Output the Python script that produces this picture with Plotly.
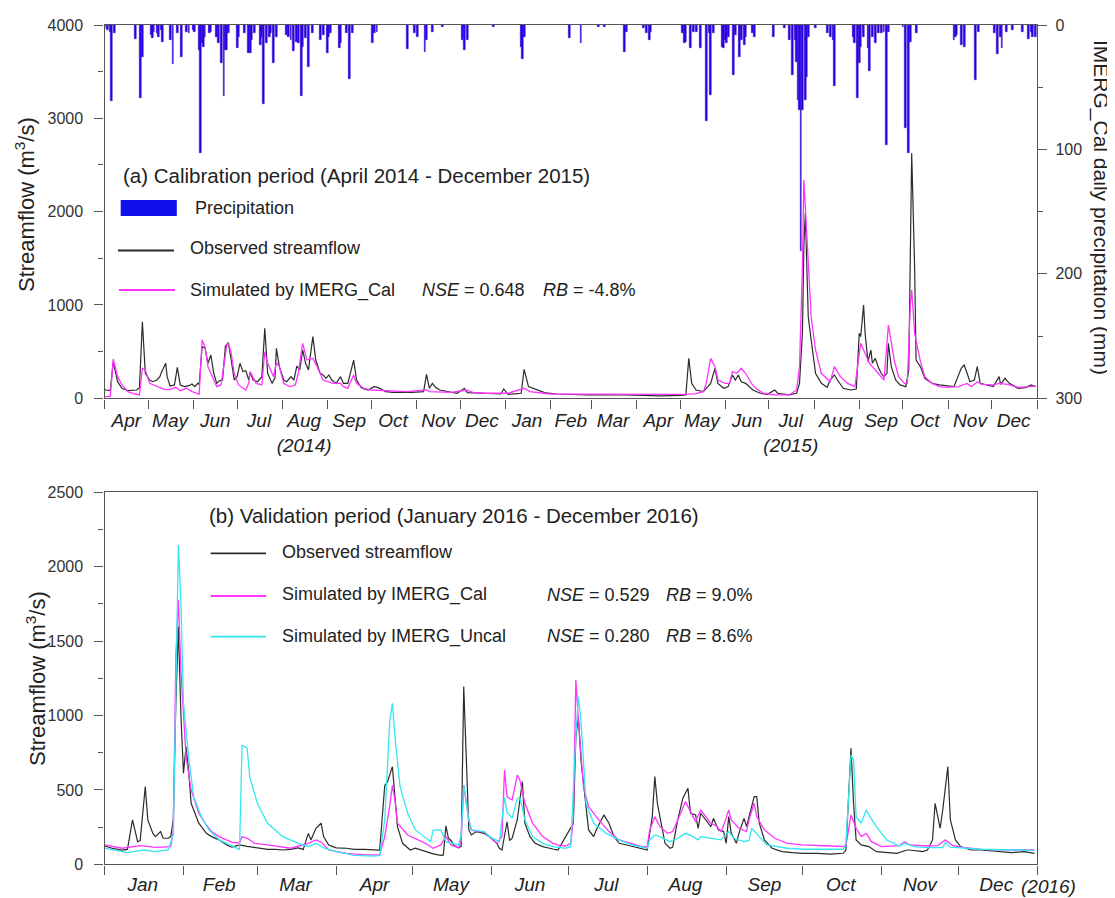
import plotly.graph_objects as go

W, H = 1115, 898          # size of the reference picture
OFF = 8                   # the page body adds an 8 px margin; the figure is shrunk to compensate
FONT = "Liberation Sans, Arial, sans-serif"

# ---------------- Panel (a) data: calibration period ----------------
precip_a_dates = [
    "2014-04-01", "2014-04-03", "2014-04-05", "2014-04-06", "2014-04-08", "2014-04-22", "2014-04-26", "2014-04-27",
    "2014-05-03", "2014-05-04", "2014-05-05", "2014-05-07", "2014-05-08", "2014-05-10", "2014-05-11", "2014-05-16",
    "2014-05-18", "2014-05-21", "2014-05-24", "2014-05-27", "2014-05-29", "2014-06-01", "2014-06-02", "2014-06-05",
    "2014-06-06", "2014-06-07", "2014-06-08", "2014-06-09", "2014-06-12", "2014-06-13", "2014-06-17", "2014-06-18",
    "2014-06-20", "2014-06-22", "2014-06-23", "2014-06-24", "2014-06-25", "2014-07-01", "2014-07-02", "2014-07-06",
    "2014-07-09", "2014-07-10", "2014-07-11", "2014-07-13", "2014-07-17", "2014-07-18", "2014-07-19", "2014-07-21",
    "2014-07-23", "2014-07-24", "2014-07-26", "2014-07-28", "2014-08-04", "2014-08-05", "2014-08-07", "2014-08-09",
    "2014-08-11", "2014-08-12", "2014-08-14", "2014-08-15", "2014-08-17", "2014-08-19", "2014-08-22", "2014-08-27",
    "2014-08-29", "2014-09-01", "2014-09-02", "2014-09-03", "2014-09-09", "2014-09-10", "2014-09-14", "2014-09-16",
    "2014-09-18", "2014-10-02", "2014-10-03", "2014-10-05", "2014-10-26", "2014-10-31", "2014-11-02", "2014-11-07",
    "2014-11-08", "2014-11-12", "2014-11-19", "2014-12-03", "2014-12-04", "2014-12-06", "2014-12-24", "2015-01-12",
    "2015-01-13", "2015-01-14", "2015-02-14", "2015-02-22", "2015-03-06", "2015-03-10", "2015-03-24", "2015-03-25",
    "2015-04-06", "2015-04-08", "2015-04-10", "2015-04-11", "2015-05-03", "2015-05-04", "2015-05-05", "2015-05-08",
    "2015-05-10", "2015-05-12", "2015-05-15", "2015-05-19", "2015-05-21", "2015-05-22", "2015-05-24", "2015-05-30",
    "2015-05-31", "2015-06-01", "2015-06-02", "2015-06-03", "2015-06-07", "2015-06-08", "2015-06-11", "2015-06-12",
    "2015-06-14", "2015-06-15", "2015-06-20", "2015-06-21", "2015-07-04", "2015-07-12", "2015-07-15", "2015-07-17",
    "2015-07-19", "2015-07-20", "2015-07-21", "2015-07-22", "2015-07-23", "2015-07-24", "2015-07-26", "2015-07-27",
    "2015-07-28", "2015-08-02", "2015-08-10", "2015-08-12", "2015-08-14", "2015-08-15", "2015-08-28", "2015-08-29",
    "2015-08-31", "2015-09-01", "2015-09-02", "2015-09-04", "2015-09-07", "2015-09-08", "2015-09-10", "2015-09-12",
    "2015-09-14", "2015-09-16", "2015-09-18", "2015-09-20", "2015-09-21", "2015-10-01", "2015-10-03", "2015-10-05",
    "2015-10-06", "2015-10-10", "2015-11-05", "2015-11-06", "2015-11-07", "2015-11-10", "2015-11-12", "2015-11-20",
    "2015-11-22", "2015-12-03", "2015-12-05", "2015-12-07", "2015-12-08", "2015-12-11", "2015-12-15", "2015-12-22",
    "2015-12-26", "2015-12-28", "2015-12-29", "2015-12-31",
]
precip_a_mm = [
    2.7, 4, 5.4, 60.8, 6.7, 11.5, 59, 25.5,
    8, 10.7, 5.4, 6.7, 9.4, 4, 14, 12,
    31.4, 6.7, 25.5, 5.4, 6.7, 4, 5.4, 20,
    103, 14.7, 17.4, 9.4, 6.7, 5.4, 9.4, 14.7,
    30.8, 56.8, 20, 20, 6.7, 18.8, 9.4, 6.7,
    22.8, 22.8, 12, 6.7, 16, 9.4, 63.5, 14.7,
    9.4, 6.7, 30.3, 9.4, 8, 9.4, 12, 20.6,
    13.4, 14.7, 56.8, 17.4, 10.7, 33.5, 6.7, 12,
    8, 22.2, 9.4, 6.7, 18.8, 14.7, 6.7, 43.4,
    6.7, 14.2, 6.7, 5.4, 19.6, 6.7, 9.4, 21.4,
    12, 5.4, 1.3, 12, 20, 12, 1.3, 17.4,
    27.6, 9.4, 10.7, 14.2, 1.9, 1.9, 21.4, 5.4,
    2.7, 6.7, 12, 5.4, 6.7, 14.7, 13.4, 18.8,
    5.4, 5.4, 18.8, 77, 6.7, 56.3, 6.7, 17.4,
    18.8, 12, 14.7, 9.4, 40.2, 8, 26, 12,
    16, 9.4, 6.7, 9.9, 9.9, 2.7, 12, 40.2,
    12, 29.5, 60.3, 68.3, 182, 68.3, 60.3, 41.5,
    9.4, 2.7, 6.7, 9.4, 12, 49, 9.4, 14.7,
    59, 30.8, 17.4, 9.4, 18.8, 36.7, 9.4, 14.7,
    6.7, 6.7, 5.4, 96.5, 5.4, 1.3, 83, 103,
    13.4, 6.7, 12, 9.4, 8, 16, 17.4, 44.2,
    5.4, 6.7, 23.6, 9.4, 18.8, 5.4, 4, 5.4,
    11.5, 5.4, 9.4, 9.4,
]

obs_a_dates = [
    "2014-04-01", "2014-04-02", "2014-04-05", "2014-04-07", "2014-04-10", "2014-04-13", "2014-04-17", "2014-04-23",
    "2014-04-25", "2014-04-27", "2014-04-29", "2014-05-02", "2014-05-04", "2014-05-07", "2014-05-09", "2014-05-10",
    "2014-05-13", "2014-05-14", "2014-05-16", "2014-05-19", "2014-05-21", "2014-05-23", "2014-05-26", "2014-05-29",
    "2014-05-31", "2014-06-02", "2014-06-04", "2014-06-05", "2014-06-07", "2014-06-09", "2014-06-11", "2014-06-13",
    "2014-06-15", "2014-06-17", "2014-06-19", "2014-06-21", "2014-06-23", "2014-06-25", "2014-06-27", "2014-06-29",
    "2014-07-01", "2014-07-03", "2014-07-05", "2014-07-07", "2014-07-09", "2014-07-10", "2014-07-12", "2014-07-15",
    "2014-07-18", "2014-07-20", "2014-07-22", "2014-07-25", "2014-07-27", "2014-07-28", "2014-07-30", "2014-08-02",
    "2014-08-04", "2014-08-07", "2014-08-09", "2014-08-11", "2014-08-13", "2014-08-15", "2014-08-17", "2014-08-19",
    "2014-08-22", "2014-08-24", "2014-08-27", "2014-08-29", "2014-08-31", "2014-09-02", "2014-09-04", "2014-09-07",
    "2014-09-10", "2014-09-12", "2014-09-15", "2014-09-19", "2014-09-21", "2014-09-24", "2014-09-26", "2014-09-29",
    "2014-10-03", "2014-10-06", "2014-10-11", "2014-10-16", "2014-10-29", "2014-11-06", "2014-11-08", "2014-11-10",
    "2014-11-12", "2014-11-14", "2014-11-17", "2014-11-22", "2014-11-29", "2014-12-04", "2014-12-06", "2014-12-16",
    "2014-12-29", "2014-12-31", "2015-01-03", "2015-01-12", "2015-01-14", "2015-01-17", "2015-01-20", "2015-01-28",
    "2015-02-05", "2015-02-27", "2015-03-24", "2015-04-17", "2015-05-01", "2015-05-05", "2015-05-07", "2015-05-09",
    "2015-05-12", "2015-05-17", "2015-05-22", "2015-05-25", "2015-05-27", "2015-05-31", "2015-06-03", "2015-06-06",
    "2015-06-08", "2015-06-10", "2015-06-12", "2015-06-15", "2015-06-20", "2015-06-25", "2015-06-30", "2015-07-05",
    "2015-07-07", "2015-07-15", "2015-07-20", "2015-07-22", "2015-07-24", "2015-07-25", "2015-07-26", "2015-07-28",
    "2015-07-29", "2015-07-31", "2015-08-02", "2015-08-06", "2015-08-10", "2015-08-12", "2015-08-15", "2015-08-17",
    "2015-08-21", "2015-08-26", "2015-08-30", "2015-09-01", "2015-09-02", "2015-09-04", "2015-09-05", "2015-09-07",
    "2015-09-09", "2015-09-10", "2015-09-12", "2015-09-14", "2015-09-16", "2015-09-18", "2015-09-20", "2015-09-21",
    "2015-09-23", "2015-09-26", "2015-09-29", "2015-10-03", "2015-10-05", "2015-10-07", "2015-10-09", "2015-10-10",
    "2015-10-13", "2015-10-16", "2015-10-21", "2015-10-26", "2015-10-31", "2015-11-05", "2015-11-10", "2015-11-12",
    "2015-11-14", "2015-11-16", "2015-11-19", "2015-11-21", "2015-11-23", "2015-11-27", "2015-12-02", "2015-12-06",
    "2015-12-07", "2015-12-10", "2015-12-13", "2015-12-17", "2015-12-19", "2015-12-24", "2015-12-28", "2015-12-31",
]
obs_a_flow = [
    96, 89, 82, 393, 178, 107, 82, 89,
    114, 821, 268, 196, 178, 196, 232, 275,
    375, 232, 132, 143, 332, 143, 125, 135,
    153, 125, 160, 150, 553, 540, 375, 464,
    268, 160, 189, 196, 560, 596, 410, 196,
    232, 375, 286, 296, 196, 275, 196, 178,
    232, 750, 268, 160, 220, 536, 339, 196,
    178, 232, 196, 346, 303, 518, 375, 304,
    661, 410, 268, 250, 214, 250, 196, 160,
    232, 160, 160, 410, 196, 118, 100, 89,
    125, 114, 71, 64, 64, 71, 257, 107,
    161, 120, 89, 71, 54, 107, 60, 54,
    46, 100, 43, 54, 311, 125, 107, 61,
    46, 36, 36, 25, 32, 36, 428, 160,
    89, 71, 160, 321, 160, 107, 125, 250,
    196, 250, 178, 160, 89, 54, 43, 89,
    54, 36, 54, 160, 696, 1643, 1982, 875,
    750, 482, 268, 160, 118, 196, 250, 196,
    107, 89, 100, 696, 661, 1000, 700, 393,
    518, 375, 428, 339, 268, 232, 268, 589,
    339, 196, 143, 125, 300, 2625, 1410, 410,
    339, 214, 160, 143, 136, 125, 321, 357,
    268, 178, 196, 339, 160, 143, 125, 232,
    150, 214, 160, 125, 107, 115, 143, 125,
]

sim_a_dates = [
    "2014-04-01", "2014-04-05", "2014-04-07", "2014-04-10", "2014-04-13", "2014-04-17", "2014-04-22", "2014-04-25",
    "2014-04-27", "2014-04-29", "2014-05-02", "2014-05-07", "2014-05-12", "2014-05-16", "2014-05-20", "2014-05-23",
    "2014-05-27", "2014-05-31", "2014-06-03", "2014-06-05", "2014-06-07", "2014-06-09", "2014-06-11", "2014-06-15",
    "2014-06-17", "2014-06-20", "2014-06-24", "2014-06-25", "2014-06-27", "2014-06-29", "2014-07-02", "2014-07-07",
    "2014-07-09", "2014-07-10", "2014-07-14", "2014-07-18", "2014-07-20", "2014-07-22", "2014-07-26", "2014-07-28",
    "2014-07-30", "2014-08-02", "2014-08-06", "2014-08-10", "2014-08-12", "2014-08-15", "2014-08-18", "2014-08-22",
    "2014-08-25", "2014-08-29", "2014-09-05", "2014-09-10", "2014-09-12", "2014-09-15", "2014-09-19", "2014-09-21",
    "2014-09-26", "2014-10-01", "2014-10-10", "2014-10-25", "2014-11-08", "2014-11-10", "2014-11-25", "2014-12-05",
    "2014-12-10", "2014-12-20", "2015-01-03", "2015-01-14", "2015-01-18", "2015-01-25", "2015-02-01", "2015-03-01",
    "2015-04-01", "2015-05-04", "2015-05-12", "2015-05-17", "2015-05-19", "2015-05-22", "2015-05-25", "2015-05-27",
    "2015-06-01", "2015-06-04", "2015-06-06", "2015-06-09", "2015-06-12", "2015-06-15", "2015-06-19", "2015-06-22",
    "2015-06-27", "2015-07-05", "2015-07-15", "2015-07-20", "2015-07-22", "2015-07-24", "2015-07-25", "2015-07-27",
    "2015-07-30", "2015-08-02", "2015-08-06", "2015-08-12", "2015-08-15", "2015-08-19", "2015-08-24", "2015-08-29",
    "2015-08-31", "2015-09-02", "2015-09-05", "2015-09-08", "2015-09-10", "2015-09-15", "2015-09-18", "2015-09-21",
    "2015-09-22", "2015-09-25", "2015-09-28", "2015-10-02", "2015-10-04", "2015-10-06", "2015-10-07", "2015-10-09",
    "2015-10-13", "2015-10-16", "2015-10-21", "2015-10-26", "2015-10-31", "2015-11-08", "2015-11-14", "2015-11-17",
    "2015-11-21", "2015-11-24", "2015-12-02", "2015-12-06", "2015-12-12", "2015-12-19", "2015-12-27", "2015-12-31",
]
sim_a_flow = [
    18, 20, 421, 232, 143, 71, 46, 36,
    321, 303, 160, 125, 96, 96, 118, 82,
    107, 71, 54, 46, 625, 553, 339, 196,
    125, 143, 571, 589, 482, 268, 143, 89,
    160, 286, 160, 143, 500, 375, 232, 382,
    339, 160, 125, 143, 268, 589, 410, 428,
    339, 196, 160, 160, 125, 107, 250, 160,
    107, 89, 82, 71, 89, 71, 64, 89,
    64, 54, 54, 107, 71, 61, 46, 44,
    40, 43, 50, 71, 160, 428, 339, 196,
    160, 160, 286, 268, 321, 268, 160, 107,
    54, 36, 36, 89, 339, 1410, 2339, 1768,
    875, 518, 268, 178, 339, 232, 160, 125,
    339, 589, 482, 375, 339, 250, 196, 786,
    696, 410, 232, 160, 160, 982, 1160, 696,
    393, 232, 160, 125, 118, 125, 160, 125,
    178, 150, 143, 160, 150, 118, 125, 132,
]

# ---------------- Panel (b) data: validation period ----------------
obs_b_dates = [
    "2016-01-01", "2016-01-04", "2016-01-08", "2016-01-10", "2016-01-12", "2016-01-14", "2016-01-15", "2016-01-17",
    "2016-01-18", "2016-01-20", "2016-01-21", "2016-01-23", "2016-01-24", "2016-01-26", "2016-01-27", "2016-01-28",
    "2016-01-29", "2016-01-30", "2016-01-31", "2016-02-01", "2016-02-02", "2016-02-03", "2016-02-04", "2016-02-07",
    "2016-02-10", "2016-02-12", "2016-02-15", "2016-02-18", "2016-02-20", "2016-02-23", "2016-02-26", "2016-03-01",
    "2016-03-05", "2016-03-08", "2016-03-11", "2016-03-14", "2016-03-17", "2016-03-19", "2016-03-21", "2016-03-22",
    "2016-03-24", "2016-03-26", "2016-03-27", "2016-03-29", "2016-04-01", "2016-04-05", "2016-04-08", "2016-04-12",
    "2016-04-18", "2016-04-20", "2016-04-21", "2016-04-23", "2016-04-24", "2016-04-25", "2016-04-27", "2016-04-30",
    "2016-05-02", "2016-05-06", "2016-05-09", "2016-05-12", "2016-05-13", "2016-05-14", "2016-05-15", "2016-05-16",
    "2016-05-17", "2016-05-19", "2016-05-20", "2016-05-21", "2016-05-22", "2016-05-23", "2016-05-24", "2016-05-26",
    "2016-05-29", "2016-05-31", "2016-06-03", "2016-06-04", "2016-06-05", "2016-06-07", "2016-06-08", "2016-06-09",
    "2016-06-11", "2016-06-13", "2016-06-14", "2016-06-16", "2016-06-18", "2016-06-21", "2016-06-25", "2016-06-27",
    "2016-06-30", "2016-07-02", "2016-07-03", "2016-07-04", "2016-07-05", "2016-07-06", "2016-07-08", "2016-07-09",
    "2016-07-11", "2016-07-12", "2016-07-15", "2016-07-17", "2016-07-19", "2016-07-21", "2016-07-24", "2016-07-27",
    "2016-07-30", "2016-08-01", "2016-08-03", "2016-08-04", "2016-08-05", "2016-08-07", "2016-08-08", "2016-08-10",
    "2016-08-11", "2016-08-13", "2016-08-15", "2016-08-17", "2016-08-18", "2016-08-20", "2016-08-21", "2016-08-22",
    "2016-08-24", "2016-08-26", "2016-08-27", "2016-08-29", "2016-08-31", "2016-09-01", "2016-09-02", "2016-09-03",
    "2016-09-05", "2016-09-06", "2016-09-08", "2016-09-09", "2016-09-12", "2016-09-13", "2016-09-14", "2016-09-16",
    "2016-09-19", "2016-09-23", "2016-09-27", "2016-10-01", "2016-10-07", "2016-10-12", "2016-10-17", "2016-10-18",
    "2016-10-20", "2016-10-21", "2016-10-22", "2016-10-24", "2016-10-27", "2016-10-30", "2016-11-07", "2016-11-11",
    "2016-11-12", "2016-11-17", "2016-11-19", "2016-11-21", "2016-11-22", "2016-11-24", "2016-11-25", "2016-11-27",
    "2016-11-28", "2016-11-30", "2016-12-02", "2016-12-06", "2016-12-10", "2016-12-16", "2016-12-22", "2016-12-27",
    "2016-12-31",
]
obs_b_flow = [
    123, 108, 96, 100, 298, 152, 160, 522,
    298, 208, 186, 220, 175, 175, 186, 298,
    1082, 1597, 1000, 612, 791, 634, 410, 276,
    208, 186, 164, 130, 115, 130, 120, 110,
    100, 100, 96, 100, 110, 100, 208, 164,
    242, 276, 186, 130, 110, 108, 100, 100,
    95, 530, 550, 656, 455, 253, 141, 96,
    108, 85, 70, 60, 63, 259, 175, 160,
    130, 110, 120, 1194, 746, 231, 197, 220,
    208, 186, 141, 108, 96, 286, 160, 175,
    298, 556, 276, 186, 141, 119, 103, 96,
    186, 253, 276, 858, 992, 701, 410, 231,
    186, 231, 332, 276, 186, 141, 130, 119,
    108, 96, 320, 589, 410, 231, 141, 108,
    115, 298, 444, 511, 343, 332, 242, 343,
    298, 253, 309, 231, 220, 141, 320, 208,
    141, 208, 309, 253, 455, 455, 276, 164,
    108, 85, 78, 74, 74, 69, 74, 96,
    780, 410, 164, 130, 119, 85, 74, 96,
    96, 85, 96, 164, 410, 242, 365, 656,
    298, 164, 119, 96, 96, 85, 78, 85,
    74,
]

cal_b_dates = [
    "2016-01-01", "2016-01-08", "2016-01-15", "2016-01-21", "2016-01-27", "2016-01-28", "2016-01-29", "2016-01-30",
    "2016-01-31", "2016-02-01", "2016-02-02", "2016-02-04", "2016-02-07", "2016-02-10", "2016-02-12", "2016-02-15",
    "2016-02-18", "2016-02-20", "2016-02-23", "2016-02-24", "2016-02-26", "2016-02-27", "2016-02-29", "2016-03-05",
    "2016-03-14", "2016-03-21", "2016-03-24", "2016-03-26", "2016-03-29", "2016-04-05", "2016-04-12", "2016-04-18",
    "2016-04-20", "2016-04-22", "2016-04-23", "2016-04-24", "2016-04-25", "2016-04-29", "2016-05-06", "2016-05-09",
    "2016-05-12", "2016-05-14", "2016-05-16", "2016-05-19", "2016-05-20", "2016-05-21", "2016-05-23", "2016-05-24",
    "2016-05-26", "2016-05-29", "2016-05-31", "2016-06-03", "2016-06-05", "2016-06-06", "2016-06-07", "2016-06-09",
    "2016-06-11", "2016-06-12", "2016-06-14", "2016-06-17", "2016-06-21", "2016-06-25", "2016-06-27", "2016-06-30",
    "2016-07-02", "2016-07-03", "2016-07-04", "2016-07-05", "2016-07-07", "2016-07-09", "2016-07-13", "2016-07-17",
    "2016-07-21", "2016-07-26", "2016-07-30", "2016-08-01", "2016-08-02", "2016-08-04", "2016-08-06", "2016-08-09",
    "2016-08-11", "2016-08-13", "2016-08-16", "2016-08-18", "2016-08-20", "2016-08-22", "2016-08-24", "2016-08-26",
    "2016-08-28", "2016-08-30", "2016-08-31", "2016-09-02", "2016-09-03", "2016-09-06", "2016-09-09", "2016-09-10",
    "2016-09-12", "2016-09-13", "2016-09-16", "2016-09-20", "2016-09-25", "2016-10-01", "2016-10-12", "2016-10-17",
    "2016-10-18", "2016-10-20", "2016-10-22", "2016-10-24", "2016-10-26", "2016-10-28", "2016-11-01", "2016-11-08",
    "2016-11-10", "2016-11-12", "2016-11-19", "2016-11-23", "2016-11-26", "2016-11-29", "2016-12-03", "2016-12-10",
    "2016-12-24", "2016-12-31",
]
cal_b_flow = [
    130, 108, 125, 114, 119, 231, 1395, 1776,
    1300, 970, 724, 500, 343, 264, 220, 186,
    164, 148, 145, 186, 175, 164, 141, 130,
    108, 141, 164, 150, 96, 74, 63, 63,
    186, 399, 530, 432, 276, 197, 141, 108,
    130, 186, 130, 110, 160, 530, 298, 231,
    220, 220, 186, 141, 186, 634, 455, 432,
    600, 567, 410, 276, 186, 141, 130, 123,
    141, 300, 1239, 970, 522, 388, 298, 220,
    164, 141, 119, 119, 231, 320, 253, 208,
    220, 298, 421, 354, 287, 365, 320, 276,
    260, 220, 260, 365, 298, 242, 220, 300,
    410, 320, 231, 175, 141, 130, 123, 119,
    125, 332, 242, 186, 208, 152, 119, 125,
    152, 130, 123, 125, 164, 125, 114, 100,
    96, 96,
]

uncal_b_dates = [
    "2016-01-01", "2016-01-08", "2016-01-10", "2016-01-14", "2016-01-17", "2016-01-20", "2016-01-23", "2016-01-26",
    "2016-01-28", "2016-01-29", "2016-01-30", "2016-01-31", "2016-02-01", "2016-02-03", "2016-02-05", "2016-02-08",
    "2016-02-11", "2016-02-15", "2016-02-19", "2016-02-22", "2016-02-23", "2016-02-24", "2016-02-26", "2016-02-27",
    "2016-03-01", "2016-03-05", "2016-03-11", "2016-03-17", "2016-03-21", "2016-03-24", "2016-03-27", "2016-04-01",
    "2016-04-08", "2016-04-16", "2016-04-18", "2016-04-20", "2016-04-22", "2016-04-23", "2016-04-24", "2016-04-26",
    "2016-04-29", "2016-05-02", "2016-05-06", "2016-05-08", "2016-05-09", "2016-05-12", "2016-05-14", "2016-05-17",
    "2016-05-19", "2016-05-20", "2016-05-21", "2016-05-23", "2016-05-24", "2016-05-29", "2016-05-31", "2016-06-04",
    "2016-06-05", "2016-06-06", "2016-06-07", "2016-06-09", "2016-06-11", "2016-06-12", "2016-06-14", "2016-06-17",
    "2016-06-21", "2016-06-25", "2016-06-30", "2016-07-02", "2016-07-04", "2016-07-05", "2016-07-06", "2016-07-08",
    "2016-07-11", "2016-07-16", "2016-07-21", "2016-07-26", "2016-08-01", "2016-08-02", "2016-08-04", "2016-08-06",
    "2016-08-10", "2016-08-13", "2016-08-16", "2016-08-19", "2016-08-21", "2016-08-22", "2016-08-26", "2016-08-30",
    "2016-09-02", "2016-09-04", "2016-09-08", "2016-09-10", "2016-09-11", "2016-09-14", "2016-09-17", "2016-09-25",
    "2016-10-01", "2016-10-17", "2016-10-18", "2016-10-20", "2016-10-21", "2016-10-22", "2016-10-24", "2016-10-26",
    "2016-10-27", "2016-10-30", "2016-11-03", "2016-11-08", "2016-11-10", "2016-11-14", "2016-11-19", "2016-11-25",
    "2016-11-26", "2016-11-28", "2016-12-03", "2016-12-10", "2016-12-24", "2016-12-31",
]
uncal_b_flow = [
    108, 85, 78, 90, 96, 85, 90, 96,
    200, 1082, 2146, 1754, 1082, 724, 455, 320,
    231, 164, 130, 108, 100, 800, 780, 589,
    410, 276, 186, 141, 120, 140, 110, 85,
    60, 55, 60, 298, 970, 1082, 858, 522,
    343, 231, 175, 152, 230, 231, 150, 141,
    130, 200, 533, 298, 231, 220, 186, 152,
    300, 450, 350, 310, 440, 450, 300, 186,
    141, 119, 108, 120, 858, 1127, 970, 410,
    276, 208, 164, 130, 108, 164, 197, 186,
    152, 175, 208, 186, 164, 186, 175, 164,
    220, 175, 152, 160, 242, 186, 130, 108,
    101, 101, 140, 735, 701, 320, 276, 365,
    332, 253, 164, 123, 141, 119, 112, 112,
    146, 115, 108, 101, 96, 94,
]

months_a = ["Apr", "May", "Jun", "Jul", "Aug", "Sep", "Oct", "Nov", "Dec", "Jan", "Feb", "Mar",
            "Apr", "May", "Jun", "Jul", "Aug", "Sep", "Oct", "Nov", "Dec"]
months_a_mid = ["2014-04-16", "2014-05-16", "2014-06-16", "2014-07-16", "2014-08-16", "2014-09-16",
                "2014-10-16", "2014-11-16", "2014-12-16", "2015-01-16", "2015-02-15", "2015-03-16",
                "2015-04-16", "2015-05-16", "2015-06-16", "2015-07-16", "2015-08-16", "2015-09-16",
                "2015-10-16", "2015-11-16", "2015-12-16"]
year_under_a = {4: "(2014)", 15: "(2015)"}
months_b = ["Jan", "Feb", "Mar", "Apr", "May", "Jun", "Jul", "Aug", "Sep", "Oct", "Nov", "Dec"]
months_b_mid = ["2016-01-16", "2016-02-15", "2016-03-16", "2016-04-16", "2016-05-16", "2016-06-16",
                "2016-07-16", "2016-08-16", "2016-09-16", "2016-10-16", "2016-11-16", "2016-12-16"]

# ---------------- colours ----------------
C_OBS = "#2b2b2b"
C_CAL = "#ff33ff"
C_UNCAL = "#33e8f0"
C_BAR = "#1e00f0"
C_BAR_EDGE = "#4a10c0"
C_AXIS = "#555555"
C_TXT = "#222222"

fig = go.Figure()

fig.add_trace(go.Bar(x=precip_a_dates, y=precip_a_mm, xaxis="x", yaxis="y2",
                     marker=dict(color=C_BAR, line=dict(color=C_BAR_EDGE, width=0.5)),
                     width=86400000 * 1.3, showlegend=False))
fig.add_trace(go.Scatter(x=obs_a_dates, y=obs_a_flow, mode="lines", xaxis="x", yaxis="y",
                         line=dict(color=C_OBS, width=1.2), showlegend=False))
fig.add_trace(go.Scatter(x=sim_a_dates, y=sim_a_flow, mode="lines", xaxis="x", yaxis="y",
                         line=dict(color=C_CAL, width=1.3), showlegend=False))

fig.add_trace(go.Scatter(x=obs_b_dates, y=obs_b_flow, mode="lines", xaxis="x2", yaxis="y3",
                         line=dict(color=C_OBS, width=1.2), showlegend=False))
fig.add_trace(go.Scatter(x=cal_b_dates, y=cal_b_flow, mode="lines", xaxis="x2", yaxis="y3",
                         line=dict(color=C_CAL, width=1.3), showlegend=False))
fig.add_trace(go.Scatter(x=uncal_b_dates, y=uncal_b_flow, mode="lines", xaxis="x2", yaxis="y3",
                         line=dict(color=C_UNCAL, width=1.3), showlegend=False))

FW, FH = W - OFF, H - OFF


def px(x):
    return (x - OFF) / FW


def py(y):
    return 1 - (y - OFF) / FH


XDOM = [px(104.5), px(1037)]
tickfont_num = dict(family=FONT, size=16, color="#333333")
tickfont_mon = dict(family=FONT, size=19, color="#222222")

ticktext_a = []
for i, m in enumerate(months_a):
    if i in year_under_a:
        ticktext_a.append("<i>%s<br>%s</i>" % (m, year_under_a[i]))
    else:
        ticktext_a.append("<i>%s</i>" % m)
ticktext_b = ["<i>%s</i>" % m for m in months_b]

common_x = dict(type="date", showline=True, linecolor=C_AXIS, linewidth=1.4, mirror=True,
                showgrid=False, zeroline=False, tickmode="array", ticks="outside", ticklen=5,
                tickcolor="rgba(0,0,0,0)", tickfont=tickfont_mon, tickangle=0, automargin=False)
common_y = dict(showline=True, linecolor=C_AXIS, linewidth=1.4, ticks="outside", ticklen=9,
                tickcolor=C_AXIS, tickwidth=1.2, showgrid=False, zeroline=False, tickfont=tickfont_num,
                automargin=False)

fig.update_layout(
    width=FW, height=FH, margin=dict(l=0, r=0, t=0, b=0, autoexpand=False),
    paper_bgcolor="white", plot_bgcolor="white", bargap=0,
    xaxis=dict(common_x, domain=XDOM, anchor="y", range=["2014-04-01", "2016-01-01"],
               tickvals=months_a_mid, ticktext=ticktext_a,
               minor=dict(tick0="2014-04-01", dtick="M1", ticks="outside", ticklen=9,
                          tickcolor=C_AXIS, tickwidth=1.2)),
    yaxis=dict(common_y, domain=[py(398.3), py(25)], anchor="x", range=[0, 4000],
               tickvals=[0, 1000, 2000, 3000, 4000], mirror=True, ticklabelstandoff=8,
               minor=dict(dtick=500, ticks="outside", ticklen=5, tickcolor=C_AXIS, tickwidth=1.2)),
    yaxis2=dict(common_y, domain=[py(398.3), py(25)], anchor="x", overlaying="y", side="right",
                range=[300, 0], tickvals=[0, 100, 200, 300], ticklabelstandoff=5,
                minor=dict(dtick=50, ticks="outside", ticklen=5, tickcolor=C_AXIS, tickwidth=1.2)),
    xaxis2=dict(common_x, domain=XDOM, anchor="y3", range=["2016-01-01", "2017-01-01"],
                tickvals=months_b_mid, ticktext=ticktext_b, ticklen=3,
                minor=dict(tick0="2016-01-01", dtick="M1", ticks="outside", ticklen=9,
                           tickcolor=C_AXIS, tickwidth=1.2)),
    yaxis3=dict(common_y, domain=[py(864.3), py(492.3)], anchor="x2", range=[0, 2500],
                tickvals=[0, 500, 1000, 1500, 2000, 2500], mirror=True, ticklabelstandoff=8,
                minor=dict(dtick=250, ticks="outside", ticklen=5, tickcolor=C_AXIS, tickwidth=1.2)),
)

ann = []
shapes = []


def text(x, y, s, size=18, anchor="left", angle=0):
    ann.append(dict(x=px(x), y=py(y), xref="paper", yref="paper", text=s, showarrow=False,
                    xanchor=anchor, yanchor="middle", textangle=angle,
                    font=dict(family=FONT, size=size, color=C_TXT)))


def seg(x0, x1, y, color, width=1.8):
    shapes.append(dict(type="line", xref="paper", yref="paper", x0=px(x0), x1=px(x1), y0=py(y), y1=py(y),
                       line=dict(color=color, width=width)))


# axis titles
text(25, 205, "Streamflow (m<sup>3</sup>/s)", size=22, anchor="center", angle=-90)
text(36, 679, "Streamflow (m<sup>3</sup>/s)", size=22, anchor="center", angle=-90)
text(1101, 207, "IMERG_Cal daily precipitation (mm)", size=21, anchor="center", angle=90)

# panel (a) legend and text
text(121, 175, "(a) Calibration period (April 2014 - December 2015)", size=20.5)
shapes.append(dict(type="rect", xref="paper", yref="paper", x0=px(120.7), x1=px(176.8), y0=py(216), y1=py(200),
                   fillcolor="#1010ee", line=dict(color="#1010ee", width=0)))
text(193, 208, "Precipitation")
seg(118, 174, 250.5, C_OBS)
text(188, 248.5, "Observed streamflow")
seg(119, 175, 290, C_CAL)
text(188, 290, "Simulated by IMERG_Cal")
text(419.5, 290, "<i>NSE</i> = 0.648")
text(541, 290, "<i>RB</i> = -4.8%")

# panel (b) legend and text
text(207, 515, "(b) Validation period (January 2016 - December 2016)", size=20.5)
seg(210.7, 266, 553.3, C_OBS)
text(280, 551.7, "Observed streamflow")
seg(210.7, 266, 596, C_CAL)
text(280, 594.5, "Simulated by IMERG_Cal")
text(544.5, 594.5, "<i>NSE</i> = 0.529")
text(664, 594.5, "<i>RB</i> = 9.0%")
seg(210.7, 266, 636.7, C_UNCAL)
text(280, 636, "Simulated by IMERG_Uncal")
text(544.5, 636, "<i>NSE</i> = 0.280")
text(664, 636, "<i>RB</i> = 8.6%")

# year note after the last month label of panel (b)
text(1019, 886.5, "<i>(2016)</i>", size=19)

fig.update_layout(annotations=ann, shapes=shapes)
fig.write_html("out.html")
